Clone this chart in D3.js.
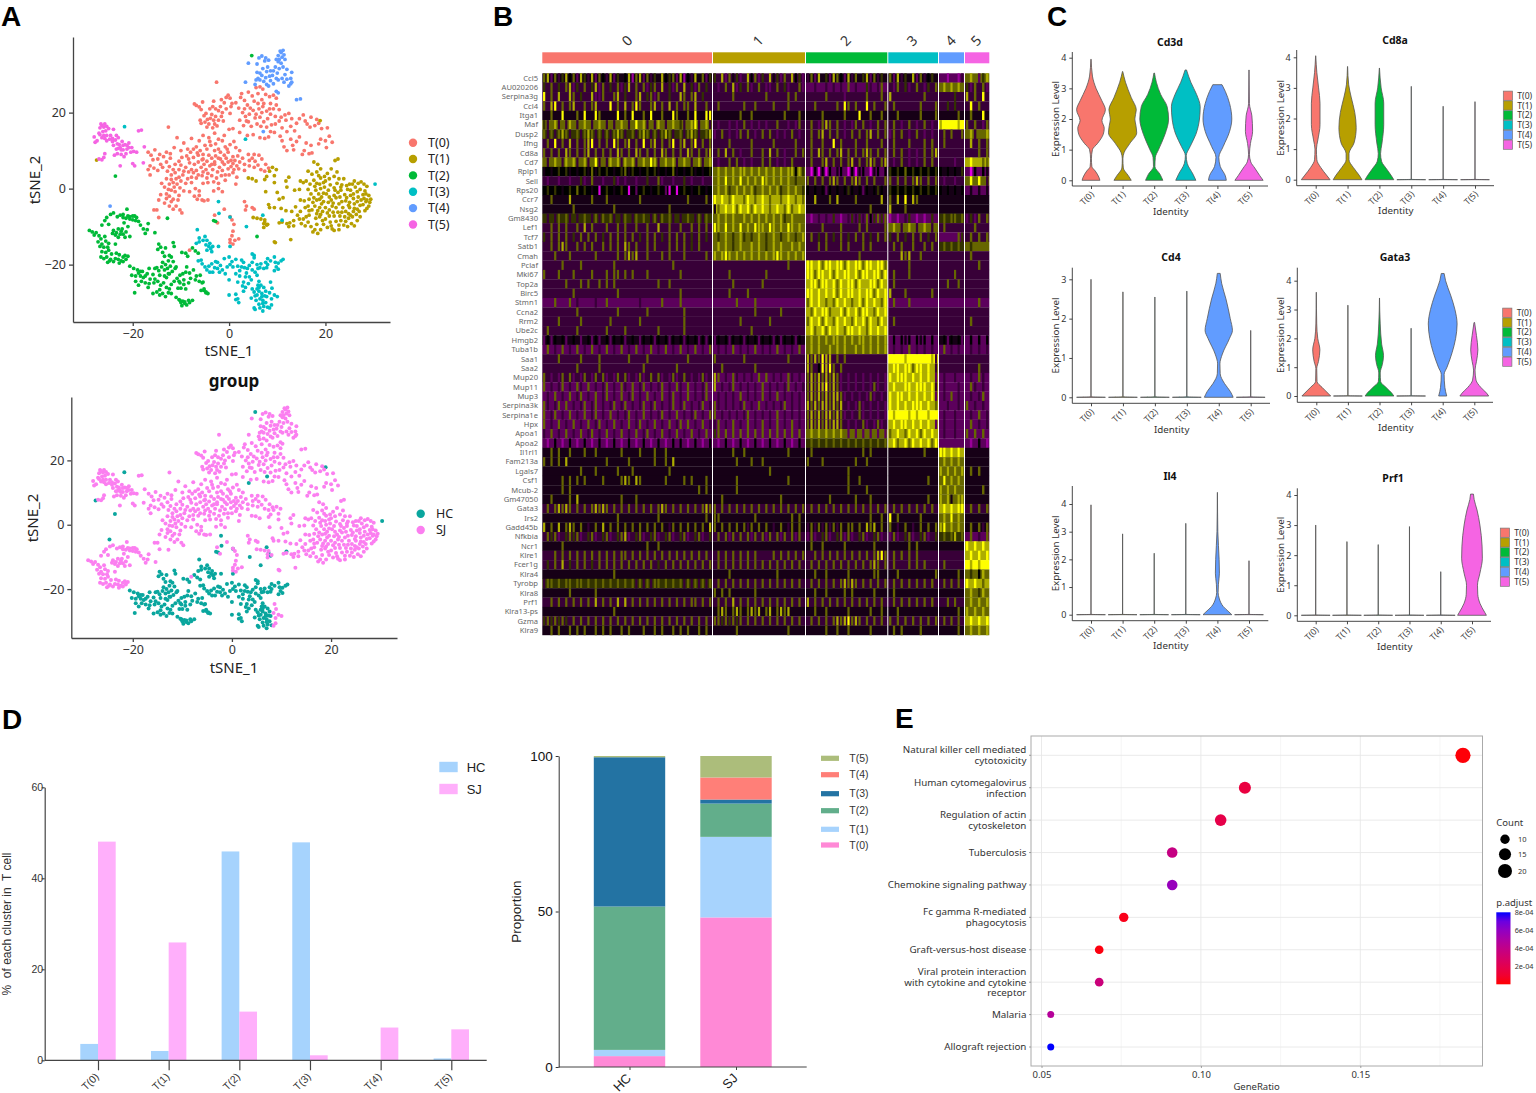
<!DOCTYPE html>
<html>
<head>
<meta charset="utf-8">
<script src="https://cdn.jsdelivr.net/npm/d3@7"></script>
<style>
body { margin: 0; background: #fff; }
svg { display: block; }
svg text { font-family: "Noto Sans", sans-serif; }
svg .arial text, svg text.arial { font-family: "Liberation Sans", sans-serif; white-space: pre; }
</style>
</head>
<body>
<svg id="chart" width="1536" height="1093"></svg>
<script>
const clusterNames = ["T(0)", "T(1)", "T(2)", "T(3)", "T(4)", "T(5)"];
const clusterColors = ["#F8766D", "#B79F00", "#00BA38", "#00BFC4", "#619CFF", "#F564E3"];

// tSNE points, x y pairs
const tsneT0 = [-7.2,22.3,-6.8,21.9,-6.2,21.5,-5.8,20.8,-5.5,22.8,-5.2,19.2,-6,18,-5.8,17.2,-5,17.5,-4.5,18.2,-4.2,17,-3.9,18.5,-3.6,19.5,-3.2,18,-3,17,-2.8,19,-2.5,16.5,-4,21,-3.4,21.6,-2.8,21,-2.2,20.5,-1.8,21.6,-1.4,20,-1,22.6,-0.6,24,-0.2,24.6,0.2,23.8,0.6,22.4,-2.6,28,-1.2,17.8,0.2,19.8,
2.4,24,2.6,25,5.6,26.6,6.4,26.8,7,26.2,4.8,24.4,5.2,23,6,22.4,6.8,23.4,7.6,24.8,8.4,24.2,9.2,24.6,9.8,23.8,3.8,22,4.4,21.2,5,20.6,6.2,21,7,21.6,7.8,20.4,8.6,19.6,9.2,21,9.6,19,10.4,20.8,2,21.2,2.8,20,3.4,19,2.2,18,3,16.6,4,17.6,4.6,16.4,5.4,18.6,6.4,18.8,7.2,17.6,8,18.4,8.8,16.8,9.6,17,10.4,17.8,11,16,11.8,18,12.4,19.8,12,15,12.8,16.4,13.6,15.2,14,17.2,14.6,18.4,15.4,19.4,16.2,17,17,18.8,17.8,16.6,18.6,17.2,19.2,15.8,20.4,16,20.8,13.8,21.4,12.2,20,12.6,19,13,16,12,17,11.4,15.6,10,15.2,9,17.2,9.4,
10.6,13.8,11,12.6,11.4,11,12,10,12.8,13,13.2,11.4,9.4,14.8,8.2,13.6,7.4,13.2,6.4,13.4,5,14.2,3.8,14,2.2,14.8,0.8,15.8,0,15.6,-1,14,-2.2,13,-3,14.6,-4.2,13.4,-5.4,14,-6.2,12.6,-7.8,13.2,-9.4,12,-10.8,13.4,-12.6,16.2,-11.4,10.8,-13,9.6,-14.4,9,-15.4,10.2,-16.2,8.8,-16.8,9.6,-15.8,7.6,-14.8,7.8,-13.6,8.4,-12.2,8,-14.2,6.4,-16.4,6,-16.8,5,-15.6,5.4,-14.8,4.8,-16.4,3.6,-12.4,5.8,-11.2,6.4,-10.4,7.2,-9.8,8.2,-8.8,8.6,-8,9.6,-7.4,10.4,-6.8,11,-6,10,-5.4,9,-4.6,10.4,-3.8,11.4,-2.8,11.8,-2.2,10.4,-1.4,12.6,-0.8,11,0.2,11.6,1,12.4,1.4,10.8,2.2,10,1.8,8.6,0.8,8.4,-0.2,9.6,-1,8.8,-1.8,7.8,-2.8,8.6,-3.6,8,-4.6,7.2,-5.4,7.8,-6.4,7,-7.2,6.4,-8.2,6.8,-9,5.6,-7.8,5,-6.8,4.8,-5.8,5.6,-4.8,5,-4,6,-3,6.4,-2,5.6,-1,6.4,-0.2,7,0.8,6.6,1.6,6,2.2,7,2.8,8,4,9,4.8,8,5.4,7.2,6,6.2,6.8,7.8,7.6,6.4,8.2,5.4,5.2,5.6,4.2,6,3.2,4.8,
-13,2.6,-12,3.6,-11.2,4.2,-10.4,3,-9.6,3.6,-8.6,2.6,-7.8,3,-6.8,2.8,-5.6,3.4,-4.6,2.8,-3.6,3.4,-2.6,2.8,-1.6,3.4,-0.8,2.2,0,3.6,0.8,4.2,1.6,3,-14,1.4,-13.4,0.4,-12.4,1.2,-11.6,1.6,-10.8,1.2,-12,-0.4,-13,-1.4,-14.2,-1.6,-11.2,-0.8,-10.4,-1.8,-9.4,-0.6,-8.2,-0.8,-7,0,-6.2,-0.6,-6.2,-1.8,-5.6,-3,-5.2,-3.2,-4.4,-3,-3.2,-0.6,-2.2,0,-1.4,-0.8,1.4,1.2,-14.6,-3,-13.4,-3.8,-12,-3.4,-11,-4.6,-10.2,-5.6,-9.8,-6.4,-11.6,-5.4,-15,-5.6,-15.6,-5.6,-14.6,-7.6,
-2.4,-9,-3,-7,-1,-5.4,0.2,-7.4,0.6,-8.2,1,-9.4,0.8,-11.2,0.6,-12.4,0.2,-13.4,0.2,-14.2,0.8,-14.6,1.2,-13.6,2,-13.2,-8.2,-16.2,-6.6,-2.8,3.2,-3.4,3.6,-4.6,3.4,-5.6,4.8,-5,5.2,-5.4,
-4.6,16.2,-3.4,16,-2.2,18,-1.6,19,-4.8,19.8,-3.2,23,-1.6,23.4,-0.6,21,0.4,21.6,1.4,22.6,3.2,23.2,4,25.4,6,25,7.2,22.4,8.6,22.4,9.8,22,3.2,21,4.2,19.6,5.6,19.6,6.8,20,8.4,21,3.6,17.8,5.8,17,6.6,16.4,7.8,16.2,8.6,15,10.8,18.8,11.6,19.4,13,18.4,15.8,17.8,18.2,18.2,16.8,16.2,14.6,13.6,14,12.4,13.4,10.2,18.6,11.8,20.2,10.8,16.6,9.2,
-5.6,7.6,-4.2,8.8,-3,7,-2.2,8,-1.4,7,-0.6,8,0.4,7.4,1.2,7.4,2,5.2,-0.2,5.2,-1.4,4.8,-3.4,5,-4.4,4,-5.4,4.4,-6.4,3.6,-7.4,4.2,-8.4,4.4,-9.4,4.6,-10.4,5,-11.6,5,-10,6.2,-8.4,7.8,-7.4,8.2,-6.4,8.8,-5,11.4,-4,12.4,-3,10,-1.8,9.6,-0.4,10.4,-6.6,9.4,-8.6,10.4,-10,10,-12.2,9.2,-13,7,-13.8,5.6,-12.8,4.6,-12,2.4,-11,2.6,-10,2,-9,1.4,-7.8,1.6,-12.6,-0.2,-11.4,0.4,-10.2,0.2,-13,-2.6,-12.4,-2,-11.6,-2.8,-10.6,-3,-12.4,-4.6,-7.2,-2,-5.4,1.4,-4.4,1.6,-3.2,1.8,-2.2,1.4,-0.8,3.6,-5.2,6.4,-3.6,6.4,-2.4,4.4,0.4,5.8,1,5,3.2,6.4,4.2,7.4,5.2,9,6.2,8.8,6.6,5,7.4,4.6];
const tsneT1 = [4,2.8,4.8,2.6,5.6,2,7.4,2.4,7.8,3.2,8.4,4.6,9,5.6,9.4,1.6,9.4,3.4,9.8,5,11.8,2,12.4,3,12,0.4,13.6,-0.4,14.6,-0.2,7.6,-0.8,10,-1,10.4,-2.8,11.2,-2.4,8.2,-4.2,8.4,-5,9.4,-5,10.8,-5.2,11.8,-5.8,13,-6,13.8,-4.8,5,-7.6,5.8,-7.8,6.6,-8,7.4,-8.2,7.2,-9.2,8,-9.4,7.2,-10.2,10.4,-9,11,-8.8,12,-9.2,12.6,-9,13.4,-8.4,14.6,-8,15,-9.2,15.8,-9.8,16.4,-8.8,17,-10,17.8,-10.8,17.4,-11.4,18.2,-9.4,18,-7.8,14.8,-6,15.8,-5,16.4,-4.6,17.2,-5.6,17.8,-4.6,18.4,-5.8,18.8,-5,19.2,-4,18.2,-3,17.6,-2.4,18.6,-1.4,18,-0.4,19,0,19.2,-2.2,19.6,-3.4,20,-5,20.4,-6.4,20,-8,19.6,-9.4,20.4,-10.2,21.2,-9.8,21.8,-11,22.2,-8.6,21.8,-7.2,22.6,-6.2,21.4,-4.6,21.2,-3,21.8,-1.8,20.6,-0.4,21,1,20,2,19,2.8,18.2,1.4,17.6,2.2,16.8,1.2,16,2,15.4,1.6,14.8,2,17.2,3.8,18.2,4.4,17.6,7,18.4,6.4,19,5.2,20.4,4,21.2,5.2,21.8,3.2,22.4,4.4,22.8,2.6,23.4,1,23.8,2.6,22,7.4,22.6,7.8,23.2,-0.4,24,-1.6,24.6,-0.2,25,1.2,25.6,1.2,26,2,26.8,1.4,27.4,1.8,28,1.2,28.6,0.6,25.2,-1.8,25.8,-2.6,26.6,-0.8,27.2,-0.2,27.8,-1.6,28.4,-1.4,29,-1.8,29.4,-2.8,29.2,-3.6,29,-4.6,28.6,-5.2,28.2,-5.8,27.2,-4.4,26.6,-3.4,26,-4,25,-3.6,24.2,-3.2,23.4,-3.4,23.6,-5,24.2,-6,25,-5,25.8,-6,26.4,-6.8,25.6,-7.4,24.8,-7.8,24,-7.4,23.2,-8.4,22.8,-9.6,23.8,-9.6,24.6,-10,25.4,-9.2,26,-9.8,26.6,-8.4,27.2,-7.4,22.2,-2.4,22.8,-4,20.8,-7.2,19,-6.8,16.6,-7,16.6,-2.8,15.6,-3.2,14.8,-3,16.4,-0.2,12.8,-13.4,9.4,-14,9.6,-14.2,
17,-1.4,17.8,0.6,18.8,1.2,19.8,0.4,20.2,-1.4,20.8,-2.2,19.4,-6,18.8,-7.4,19.4,-8.4,21,-8.8,21.6,-6.2,22.2,-5,21.6,-3.8,22.6,-1,23.2,0.4,24.4,0.8,25.2,-0.4,26.2,0.4,26.8,-2.2,27.4,-3,28,-2.6,28.4,-3.4,25.8,-1.4,24.4,-2.4,24.8,-4.4,23.4,-6.2,23,-7.2,24.8,-6.6,26,-5.2,27,-6,27.8,-4.2,28.6,-3,28.2,-0.6,22.8,-10.8,21.4,-10.6,19,-10.8,18.4,-11.8,16,-7.4,15.4,-8,14.2,-7,13.4,-9.8,12.4,-10,16.4,4.6,18.6,3.4,19.8,3.2,20.8,2.6,22.4,1.4,21.8,0.2,19.6,1.6,17.4,-3.6,16.6,-5.8,20.6,-3.6,23,-2.2,22,-0.4,25.2,-7,26.6,-5.4,24.2,-8.6,18.8,-2.8,19.6,-1.2,18.2,-6.6,20.8,-5.6];
const tsneT2a = [-29,-11,-28.4,-11.4,-28,-12.2,-27.6,-11.6,-27,-12.4,-26.6,-13.2,-27.2,-14,-26.4,-14.6,-26,-15.4,-25.6,-13.8,-25,-14.4,-26.4,-16.6,-25.6,-16.8,-25,-16.2,-26.6,-18,-26,-18.4,-25.4,-18,-24.6,-18.6,-24,-19.2,-23.6,-18.4,-23,-18.6,-22.4,-19,-22,-18,-21.6,-17.6,-21,-17.8,-23.4,-17,-22.8,-17.4,-26.4,-9.6,-25.4,-7.6,-25,-9.4,-24.6,-6.8,-24,-6.4,-23.2,-7.4,-22.6,-7,-22,-6.8,-21.4,-7.8,-21,-7.2,-20.6,-8,-20,-8.2,-19.4,-8.4,-18.8,-8.6,-18.4,-9.6,-17.8,-10.6,-17,-10.8,-17.4,-11.8,-21.2,-5.4,-19.6,-7.2,-24,-11,-23.4,-11.6,-23,-10.6,-22.4,-11.2,-22,-12,-23,-12.8,-23.6,-12.2,-21,-10,-21.4,-11.4,-20.6,-12.6,-15.4,-11.6,-12.8,-7.8,-16.8,-9.2,
-25.8,-12.6,-26.8,-15.2,-25.2,-15.4,-24.4,-17.2,-24.8,-19,-25.2,-19.4,-22.8,-19.6,-22,-19.2,-21.4,-18.6,-24.2,-11.8,-22.6,-12,-22.2,-10.6,-21.8,-9,-20.6,-7.4,-20,-7.2,-19.2,-7.6,-22,-7.6,-23.6,-14.6,-25.8,-8.4,-21.6,-12.8];
const tsneT2b = [-20.6,-20.4,-19.8,-21,-19,-21.4,-18.4,-21.8,-20.2,-22.8,-19.4,-23,-18.4,-23,-17.8,-23.4,-17,-22.4,-16.6,-21,-18.2,-24.4,-17.4,-24.8,-16.6,-25,-19.6,-27.4,-15.8,-22.6,-15.4,-21,-15,-20.8,-14.6,-21.6,-14,-20.6,-13.8,-19.4,-13.2,-20,-12.6,-19,-12.8,-21,-12.2,-20.4,-14.6,-14.6,-14.8,-16,-13.8,-16.8,-13.2,-15.6,-12.4,-17.6,-11.6,-14.2,-11.4,-15.2,-15.4,-23.8,-14.8,-24.4,-14.2,-25.4,-13.6,-24.8,-13,-26,-12.4,-26.4,-12,-25.2,-11.4,-24.4,-10.8,-23.6,-10.2,-22.8,-9.6,-22.4,-9,-22,-8.2,-22.2,-8,-23.6,-15.8,-27.6,-15,-27.2,-14.4,-28,-13.8,-27.6,-13.2,-28.4,-12.6,-27.4,-12,-27.6,-10.6,-26.2,-10,-26.2,-9,-26.4,-7,-24,-6.2,-24.4,-5.4,-24.6,-6,-22.8,-9.8,-16.8,-9,-17,-8.6,-17.8,-7.6,-15.6,-7,-16.4,-6.4,-17,-5.2,-26.4,-5.8,-26.8,-4.8,-27.4,-10.2,-29.4,-9.6,-29.6,-9.2,-30.2,-8.8,-30.6,-8.2,-30,-7.6,-29.4,-9.8,-30.8,-10.4,-24.4,-11.2,-21,-12.4,-22.4,-13,-23.4,-11,-28.6,-9.4,-25.2,
-18.8,-22.2,-18,-21.8,-17.4,-23,-16.4,-23.8,-15.6,-24.8,-14.4,-26.6,-13.4,-23,-12.6,-22.4,-13.4,-21.4,-14.4,-22.8,-11.8,-21.8,-11,-20.6,-11.6,-19.2,-12,-18,-13.4,-17.8,-14.2,-15.4,-10.2,-24.8,-9.4,-24,-8.4,-24.8,-8.8,-20.6,-7.4,-21.4,-6.8,-23,-5.6,-24.8,-4.8,-27.2,-4.4,-27.6,-5.2,-26.8,-9.2,-29.8,-8.4,-29.4,-10,-30,-10.4,-29.2,-16.8,-26,-19.4,-24.4,-18.8,-25.4];
const tsneT3 = [-6.8,-14.4,-6.2,-14,-5.4,-13.6,-5,-12.6,-4.6,-13.6,-4,-14.4,-4.2,-15.2,-3.8,-15.8,-3.6,-16.6,-4.6,-16.2,-6.6,-10.8,-6.4,-19,-5.8,-18.8,-5.6,-19.8,-5,-20.6,-4.2,-20.4,-3.6,-19.8,-3,-20.8,-2.8,-19.2,-2.4,-21,-1.8,-20.2,-1.4,-21.4,-0.8,-22.4,-4,-22,-1,-18.4,0,-18,0.2,-20,0.8,-20.6,1.4,-18.6,1.8,-20.4,2.6,-20.6,3,-19.4,3.2,-20.8,3.8,-21,4.2,-20.2,4.8,-19.4,5.8,-20,6,-21,6.6,-19.8,7.2,-21,7.6,-19.4,8,-18.4,8,-20,9.4,-18,9.8,-20.6,10.2,-19.6,10.8,-19,11.2,-18.6,4.8,-17.2,5.2,-17.6,5.4,-22,5.8,-22.8,0,-24,1.4,-22.4,2.2,-23,3,-24.6,3.4,-23.2,4,-25,4.6,-24,3.4,-26,3,-27,0,-28,1.4,-27.8,1.8,-29,1.4,-29.2,2,-30,4.8,-26.4,5.2,-27.2,5.8,-26.4,5.8,-28,6.2,-27,6.8,-27.6,6.6,-25.4,6.2,-24.4,7.2,-26,7.6,-27,7.8,-28.4,6.4,-29,5.6,-29.4,7,-29.4,7.6,-30,6.2,-30.4,7.2,-31,8,-31.2,5.2,-31.4,5.4,-31.8,7,-32.2,-2.2,-15.2,0.2,-15.2,
-4.6,-21.4,-3.4,-22,-2.4,-19.4,-2,-22,-0.4,-20.6,0.6,-19.2,2.2,-21.6,3.6,-22.2,4.8,-21.4,6.4,-20.8,7.8,-20.8,8.6,-19,9.6,-19.4,10.2,-21.2,9.4,-21.6,2.6,-18.8,5.2,-18.2,6.2,-26,6.8,-28.4,5.4,-28.2,4.6,-28.8,7.4,-28.2,6,-25.4,7,-30.2,6.4,-31.4,1.8,-24.6,2.8,-25.6,4.2,-23.2,-6.2,-13,-4.8,-14.8,-3.4,-15.2];
const tsneT3c = [8.6,-24.6,8.9,-26.2,8.4,-27.4,9.4,-28,10,-28.4,8.8,-29,8.8,-30.6,8.4,-31.4];
const tsneT4 = [4,33,5.8,30.6,5.4,27.4,6.4,28.6,6.8,29.8,7,31.6,7.4,33.6,7.6,34.4,8.2,33.8,8.6,31,8.6,28.4,9,29.8,9.2,27.6,9.6,32,10,30.4,10.2,28.6,10.4,34,10.8,35.8,11,34.6,10.8,33,11.2,32,11.2,36.4,11.6,34,11.6,30,12,28.8,12.4,27,12.8,29,13,28,9.8,25.6,10.2,25.2,3.4,28,6.2,34.4,6.8,34.9,13,30.6,14,23.4,14.8,23.6,5.8,32.8,
6,29,5.6,28.6,6.4,30.4,7.6,29.2,7.8,30.8,7.2,28.2,8,32,8.4,29.6,9.2,31,9.8,29,10.4,31.6,10.2,33.4,9.8,34,10.2,35,10.6,36.2,11.4,35.2,12,31.4,11,29,11.4,28,12.8,27.6,7.8,27.4,8.2,27];
const tsneT5 = [-28,13.6,-27.8,12.2,-27.4,12.6,-27,14.6,-26.8,16,-26.6,17,-26.2,15,-26,16.2,-25.8,17,-25.4,14,-25,15.8,-25.4,12.6,-24.8,13,-24.2,12.4,-24,15.6,-23.4,14,-23,13.4,-22.8,11.6,-22.6,10.8,-22.2,12.4,-22,10.2,-21.6,11.6,-21.2,10.4,-20.8,12,-20.2,10.8,-19.8,9.8,-19.2,9.6,-23.2,9.2,-23.8,8.8,-21.8,8.4,-26.4,7.6,-26,8.2,-25.8,9.2,-27,7.8,-18.8,15.2,-18.2,15.4,-20,6.6,-19.6,6,-17.8,6.8,-17.6,11,-22.6,6,
-26.8,14.2,-26.4,13.4,-26,14,-25.6,15.2,-26.4,16.6,-25.4,16.4,-25.8,13.2,-24.6,14,-24.2,13.2,-23.6,12.8,-23.2,11.8,-23,10.6,-22.4,10.2,-22,11.4,-21.2,11.4,-20.8,10.8,-21.4,9.2,-22.4,9,-23.4,10.4,-24,11.4,-20.4,9.6];
const tsneExtra = [[3,-2.2,-3.4],[3,-2.1,-6.5],[2,-3.2,-8.4],[2,-2.8,-8.6],[4,-24.7,-4.6],[3,-21.7,16.3],[2,-23.6,3.3],[2,4.7,35],[1,-27.5,7.5],[3,30.3,1.2],[4,7.1,15],[1,18.9,17.9],[2,5.8,-12.6],[3,0.2,-7.5],[3,3.4,13],[1,7.4,-8.8],[1,7.8,-9.6],[3,7,-7],[3,11,-8.3],[3,3.6,-10]];

// Expression of each gene along the cells of each cluster, one digit per column, hand
const genes = ["Ccl5","AU020206","Serpina3g","Ccl4","Itga1","Maf","Dusp2","Ifng","Cd8a","Cd7","Rplp1","Sell","Rps20","Ccr7","Nsg2","Gm8430","Lef1","Tcf7","Satb1","Cmah","Pclaf","Mki67","Top2a","Birc5","Stmn1","Ccna2","Rrm2","Ube2c","Hmgb2","Tuba1b","Saa1","Saa2","Mup20","Mup11","Mup3","Serpina3k","Serpina1e","Hpx","Apoa1","Apoa2","Il1rl1","Fam213a","Lgals7","Csf1","Mcub-2","Gm47050","Gata3","Irs2","Gadd45b","Nfkbia","Ncr1","Klre1","Fcer1g","Klra4","Tyrobp","Klra8","Prf1","Klra13-ps","Gzma","Klra9"];
const heatValues = [
"7827368572863827538264581782736485672815384726 6382746238572638462738562 3728462875283746827364 7283648273564 2212213 787268",
"6373637826373682736372683737267383627383627363 3237382637237322373623372 2232232323272322632372 3273623732637 7878787 627372",
"9373833873633822733783633783672733633873783633 3333373333333373333373733 3333373333233333733373 8333333337333 3333633 837393",
"7389373783373783339373837973378373837377383373 3733333373373333733373333 3373333373973733937337 3733333373337 3363633 393733",
"4474494447494497444494749447494474497447494499 4444444744744444444744474 4444744444744494474474 4474444474447 4444474 474494",
"6378373873787378737378737978373873787637893783 3233232373232323373323273 3732787373232737323737 3732373237323 8999989 737327",
"7373787367378737373787367378737378736737873678 2373232737323737323237323 3737837373237373783737 2737323732323 3737337 783778",
"3739373837378937373973783739378373793783793737 3333733333733333733333733 3733733937333733733373 3733373337373 3733333 383737",
"7373738737378373737387373873737387373738737378 3738373233733738373233737 3738737378373737873737 3737323237378 3333333 333737",
"7378738783783793738783878378798378783787378378 3233737323233737323237333 3733783737378373787378 3237323237373 3333233 898877",
"4545656454564746565456746545656454574545645456 7878787887878787878788586 2050505245205045204525 6565756565656 5454546 205254",
"3233233233623733233623233233633723323363233233 7879787978787987878787677 7373737873737873737337 7373737873737 3233233 797973",
"5656545657565450565456505256545652050565456545 7878678787867878786787876 5454525454565452545654 6565656565656 5454545 242424",
"4474444844444744474444444474444444444447444474 9898798879878987887898787 4484447484444744444484 7484948744444 4444444 444444",
"4444444474444444444744444444444444744444444444 4789897989798987898797898 4444444444444444474444 8444744444444 4444444 444444",
"6363767363676373767363763767637376736367637376 7878787787878787878678777 2123232621236363756767 1212362121262 6767767 262737",
"3373737337383733373373733733733833733733737373 9879787978798879878798787 3333733337333373733337 7873787378737 3733333 337333",
"6373737363737373637373737363737363737373637363 7678767867678767876787678 3736373637363737363737 6373637373637 2222276 373737",
"3373787337373733737373873733737333737373637333 7878767877878767878778787 3337373337373337373333 3737337337373 6767676 767777",
"3337333733333373333373787833733373733373333373 8789878787878787898787878 3333333333333373333333 3338783373333 3333333 373333",
"3333373333733333333733333333333333373333333333 3333333333333333333373333 9989799899798997998997 3333373333333 3333333 333733",
"7333733373333733373773737333733333333733333333 3333733333333373333333333 9979989798998979989979 3733373333333 3333733 333333",
"3333337333737337373733333333333733733333333333 3333373333333733333333333 8997998979899798899798 3733333333333 3373373 333333",
"3333333373333333333373333333333333333733333333 3333733337333333333333333 9989898979899898997989 8333733333373 3333333 333333",
"2227222723222232272222222232222272222722222222 2222227222272222222222222 7989878798987897989879 2722272222222 2222222 222722",
"3333333337333333333373333333733333333373333333 3333333333373333337333333 8798997889798979987989 3333333333333 3333333 333333",
"3333733333733333337333333373333333333373333333 3333333733333337333333333 7989798798987989798798 3733333333333 3333333 373333",
"3733333337333333373333733333333733333373333333 3333333333733333333333333 8978979898799898798989 3333333333333 3333333 333333",
"2525452454245252452545245425452545254525452525 2545254525452545252545254 7878787887878788787878 2525452545252 4525452 252525",
"2723272327232723272327232723272327232723272327 2323272323272323272323272 7878778787877878787878 2323272323232 2723232 232323",
"3333733333733337333333373333733333333337333333 7333333373333333333373333 8787988373733333333333 9999899999983 3333333 333333",
"3333333337333337333333333337333333337333333333 3373333333373333333333333 8735989737333333333333 8998997998983 3333333 333733",
"7323273723273273723273723272373723272373232723 8723273232327272323273232 7878787872323232323232 9899989898982 2322322 232732",
"7232372327327232372327327237232372327327232372 8232372323232723232372323 7878897872323232327232 8988998999893 2322232 273232",
"2327232723723272372327237232723272372327232372 2323232723232723272323232 7878787887232323272323 9899898989892 2327232 232372",
"7323727232372372323723723237237232372372323723 7323232372327232323723232 8787887878323272323232 9898989998987 2232232 723232",
"7237232723272372327232372327232372327232372327 7232323237232323272323232 7878788787232372323232 9899989899899 2322322 232723",
"7232723272327237232723272372327232723727232723 3723272327232723272327232 7878787887323237232723 8989989898982 2322322 272323",
"3272327232723723272327232723723272327232723272 6727272727272727272727272 7878787878727272727272 7898798979898 2322322 727272",
"2125212521252125212521252125212521252521252125 2125212521252125212521252 6767676767676767676767 8978979898979 2222222 212521",
"4474744744474474444447444474447447444444444444 4444474474444444444474444 4744444444444447474444 4444444447444 9989898 444444",
"7474748444444444474444474444447447484444444444 4444447444744744444444444 7444744444444744744444 4444444444444 7878787 444444",
"4444444444744474444474447444444444744444444444 4444444444444447444444444 4444444444474444444444 4444444444444 8787878 474744",
"4444474747474444744447874874444447444474744474 4444447444444444444474444 4444444444474474444444 4444444444744 7978787 444444",
"4444474744444444444444444444444444444444447474 4444447444444444444444444 4444444444474444744444 4444444444444 8787877 444474",
"4474444748444444444447444744444444444444444444 4474444444444444447444444 4444447444444744474444 4444444444744 8784788 444444",
"3737878737373787873737373737373787373737373787 7373737373737373737373737 3737373737373737373737 3737373737373 8989899 373737",
"4444444444444444444474444444444744444444444474 7744444444474444444447474 4444444444444444474474 9474444474444 7879787 444444",
"8474847874743474847474747474747474374747474748 7474747473747474347437474 3737373737477474878474 7434743474747 8978787 474737",
"3767236767236723672367823672367236723672367236 3737273737273727372737273 2723672367272367236723 2723672367236 6767867 272327",
"4444474444444444444444444444744744444444444444 4444444444444444444444444 4744744444744444447444 4444474744444 4444444 989898",
"3337373737373737373737737373737373737373737373 3737373737373333737373737 3373737373737373737897 3737373733333 3333333 898989",
"3637383637373637373737373737373637373737373737 3737373737373737373737373 3737373737373737378737 3733373737333 3733333 989899",
"4444444444444444444744444444444444444444444444 4444744444444444474444444 4474474444474444447744 4474444444447 4444474 767587",
"3776767767767676767676767373737767676737373737 3737373737373737373737373 3737373737878737373737 3737373737373 3737373 989878",
"4444444744444474444444444444444444444444444444 7474744444474444444444444 4474474444747444447444 4744444444444 4444444 787687",
"3373737373737383737383837373737373737373773737 3737383737373737373737373 8373737373737373737373 3737373737373 3373733 787878",
"4444444444444444444744444444444444444444444444 4787478747878478478784444 4474474444474444474474 4474444444444 4444474 878787",
"6767676373737373737373737373737373737373737373 7767676737373737373737373 3737373787897873737373 7373737373737 3737373 898989",
"4474744747474474747447474447447474474747447474 4444447444444444444474444 4444474474474444474444 4747444474444 4444474 787878"
];
const heatLevels = [-2.2, -1.5, -0.9, -0.55, -0.22, 0, 0.5, 1.0, 1.7, 2.5];

// half width of each violin (0 to 1) at expression values
const stem = (top) => [[0, 1], [0.012, 0.004], [top, 0.003]];
const cd3dViolins = [
	[[0,.62],[.1,.55],[.3,.3],[.45,.06],[.7,.03],[1,.1],[1.2,.45],[1.5,.85],[1.7,.92],[1.95,.76],[2.3,1],[2.6,.75],[3,.35],[3.4,.1],[3.95,.01]],
	[[0,.6],[.15,.4],[.4,.05],[.7,.02],[.9,.1],[1.2,.5],[1.55,.98],[1.8,.92],[2,.85],[2.3,.95],[2.7,.6],[3.2,.2],[3.55,.01]],
	[[0,.6],[.2,.4],[.45,.05],[.75,.08],[1,.3],[1.5,.75],[2,1],[2.4,.9],[2.8,.45],[3.2,.15],[3.5,.02]],
	[[0,.7],[.2,.5],[.55,.1],[.8,.03],[1.1,.3],[1.5,.7],[2,.95],[2.4,1],[2.8,.75],[3.2,.35],[3.6,.05]],
	[[0,.62],[.15,.55],[.45,.2],[.75,.1],[1.1,.4],[1.6,.85],[2,1],[2.5,.85],[2.9,.55],[3.12,.32]],
	[[0,.98],[.15,.75],[.4,.4],[.6,.12],[.85,.03],[1.2,.1],[1.6,.25],[2.1,.2],[2.5,.03],[3.6,.005]]
];
const cd8aViolins = [
	[[0,1],[.15,.75],[.4,.35],[.65,.08],[1,.05],[1.3,.15],[1.8,.3],[2.5,.3],[3,.2],[3.5,.08],[4.05,.005]],
	[[0,1],[.15,.8],[.4,.4],[.65,.1],[.85,.1],[1.2,.45],[1.7,.6],[2.2,.5],[2.7,.25],[3.1,.08],[3.7,.005]],
	[[0,1],[.15,.8],[.35,.5],[.6,.15],[.85,.08],[1.2,.18],[1.8,.3],[2.5,.3],[3,.12],[3.65,.005]],
	stem(3.05), stem(2.4), stem(2.55)
];
const cd4Violins = [
	stem(3.0), stem(2.68), stem(2.55), stem(2.7),
	[[0,1],[.15,.8],[.35,.4],[.6,.1],[.85,.08],[1.1,.25],[1.5,.75],[1.7,.95],[2,.8],[2.5,.5],[2.9,.2],[3.15,.1]],
	stem(1.7)
];
const gata3Violins = [
	[[0,1],[.1,.8],[.3,.4],[.5,.05],[.95,.03],[1.2,.15],[1.6,.25],[2,.1],[2.5,.03],[3.6,.003]],
	stem(3.15),
	[[0,1],[.1,.85],[.3,.45],[.5,.08],[.8,.05],[1.1,.2],[1.4,.28],[1.8,.15],[2.5,.05],[3.4,.003]],
	stem(2.35),
	[[0,.28],[.3,.15],[.75,.1],[1,.3],[1.5,.65],[2,.9],[2.5,1],[3,.85],[3.5,.55],[4,.2],[4.25,.1]],
	[[0,1],[.1,.85],[.3,.45],[.55,.12],[.9,.05],[1.2,.15],[1.6,.25],[2.1,.15],[2.55,.02]]
];
const il4Violins = [
	stem(3.97), stem(2.92), stem(2.22), stem(3.3),
	[[0,1],[.1,.8],[.3,.4],[.6,.12],[.8,.05],[1.1,.07],[1.5,.14],[2,.12],[3,.03],[4.42,.003]],
	stem(1.95)
];
const prf1Violins = [
	stem(3.0), stem(2.45), stem(2.35), stem(2.95), stem(1.45),
	[[0,1],[.1,.88],[.4,.55],[.7,.4],[1,.38],[1.4,.55],[1.9,.72],[2.3,.7],[3,.55],[3.5,.35],[3.85,.15],[4.03,.1]]
];

const hcPercent = [3.6, 2.05, 45.9, 47.9, 0, 0.4];
const sjPercent = [48.06, 25.9, 10.7, 1.1, 7.2, 6.8];
const stackHC = [3.5, 2.0, 46.1, 48.0, 0, 0.4];
const stackSJ = [48.1, 25.9, 10.7, 1.3, 7.1, 6.9];
const stackColors = ["#ff89d6", "#a7d3fd", "#62ae8b", "#2373a3", "#ff7f78", "#acbd7b"];

const pathways = [["Natural killer cell mediated","cytotoxicity"],["Human cytomegalovirus","infection"],["Regulation of actin","cytoskeleton"],["Tuberculosis"],["Chemokine signaling pathway"],["Fc gamma R-mediated","phagocytosis"],["Graft-versus-host disease"],["Viral protein interaction","with cytokine and cytokine","receptor"],["Malaria"],["Allograft rejection"]];
const geneRatio = [0.1822, 0.1138, 0.1062, 0.0910, 0.0910, 0.0758, 0.0681, 0.0681, 0.0529, 0.0529];
const geneCount = [24, 15, 14, 12, 12, 10, 9, 9, 7, 7];
const pAdjust = [1e-5, 1.5e-4, 1.8e-4, 3.8e-4, 5.8e-4, 4e-5, 2e-5, 3.5e-4, 4.6e-4, 8e-4];

const svg = d3.select("#chart");

function pairs(flat) {
	let out = [];
	for (let i = 0; i < flat.length; i += 2) out.push([flat[i], flat[i + 1]]);
	return out;
}

function styleAxis(g, fontSize, color, lineColor, lineWidth) {
	g.selectAll("text").attr("font-size", fontSize).attr("fill", color);
	g.selectAll("line").attr("stroke", lineColor).attr("stroke-width", lineWidth);
	g.selectAll("path").attr("stroke", lineColor).attr("stroke-width", lineWidth).attr("fill", "none");
}

function panelLetter(label, x, y) {
	svg.append("text").attr("class", "arial").attr("x", x).attr("y", y).attr("font-size", 28).attr("font-weight", 700).attr("fill", "#000").text(label);
}

function label(text, x, y, size, opts) {
	opts = opts || {};
	let t = svg.append("text").attr("font-size", size).attr("fill", opts.fill || "#222")
		.attr("text-anchor", opts.anchor || "middle").attr("font-weight", opts.weight || 400)
		.attr("transform", `translate(${x},${y})` + (opts.rotate ? ` rotate(${opts.rotate})` : ""))
		.attr("dy", opts.dy === undefined ? "0.35em" : opts.dy)
		.text(text);
	if (opts.arial) t.attr("class", "arial");
	return t;
}

/* ---------- panel A ---------- */
const tsneByCluster = [pairs(tsneT0), pairs(tsneT1), pairs(tsneT2a).concat(pairs(tsneT2b)), pairs(tsneT3).concat(pairs(tsneT3c)), pairs(tsneT4), pairs(tsneT5)];
tsneExtra.forEach(d => tsneByCluster[d[0]].push([d[1], d[2]]));

function tsneAxes(box) {
	let x = d3.scaleLinear().domain(box.xDomain).range([box.left, box.right]);
	let y = d3.scaleLinear().domain(box.yDomain).range([box.bottom, box.top]);
	svg.append("g").attr("transform", `translate(0,${box.bottom})`)
		.call(d3.axisBottom(x).tickValues([-20, 0, 20]).tickSize(4).tickSizeOuter(0))
		.call(g => styleAxis(g, 12.5, "#333", "#444", 1.3));
	svg.append("g").attr("transform", `translate(${box.left},0)`)
		.call(d3.axisLeft(y).tickValues([-20, 0, 20]).tickSize(4).tickSizeOuter(0))
		.call(g => styleAxis(g, 12.5, "#333", "#444", 1.3));
	return {x, y};
}

const tsneTop = tsneAxes({left: 73, right: 390, top: 37, bottom: 322, xDomain: [-32.4, 33.4], yDomain: [-35.1, 39.9]});
tsneByCluster.forEach((points, i) => {
	svg.append("g").selectAll("circle").data(points).join("circle")
		.attr("cx", d => tsneTop.x(d[0])).attr("cy", d => tsneTop.y(d[1])).attr("r", 1.9)
		.attr("fill", clusterColors[i]);
});
label("tSNE_1", 229, 351, 15);
label("tSNE_2", 35, 180, 15, {rotate: -90});
clusterNames.forEach((n, i) => {
	let cy = 142.7 + i * 16.35;
	svg.append("circle").attr("cx", 413).attr("cy", cy).attr("r", 4.2).attr("fill", clusterColors[i]);
	label(n, 428, cy, 12.5, {anchor: "start"});
});

const tsneBottom = tsneAxes({left: 71.3, right: 397, top: 397, bottom: 638, xDomain: [-32.4, 33.3], yDomain: [-35.2, 39.7]});
const hcPoints = pairs(tsneT2b).concat(pairs(tsneT3), tsneExtra.map(d => [d[1], d[2]]));
const sjPoints = pairs(tsneT0).concat(pairs(tsneT1), pairs(tsneT2a), pairs(tsneT4), pairs(tsneT5), pairs(tsneT3c));
[[hcPoints, "#0aa69e"], [sjPoints, "#fb7ff0"]].forEach(group => {
	svg.append("g").selectAll("circle").data(group[0]).join("circle")
		.attr("cx", d => tsneBottom.x(d[0])).attr("cy", d => tsneBottom.y(d[1])).attr("r", 2)
		.attr("fill", group[1]);
});
label("group", 234, 381, 17, {weight: 700, fill: "#111"});
label("tSNE_1", 234, 668, 15);
label("tSNE_2", 33, 518, 15, {rotate: -90});
[["HC", "#0aa69e", 513.7], ["SJ", "#fb7ff0", 530]].forEach(d => {
	svg.append("circle").attr("cx", 420.7).attr("cy", d[2]).attr("r", 4.2).attr("fill", d[1]);
	label(d[0], 436, d[2], 12.5, {anchor: "start"});
});

/* ---------- panel B ---------- */
const heatColumns = [[542.3, 712], [713, 805], [806, 887.3], [888.3, 938], [939, 964], [965, 989.3]];
const heatRow = d3.scaleBand().domain(genes).range([73.3, 635]).paddingInner(0);
const heatColor = d3.scaleLinear().domain([-2.5, 0, 2.5]).range(["#ff00ff", "#000000", "#ffff00"]).clamp(true);

heatColumns.forEach((c, i) => {
	svg.append("rect").attr("x", c[0]).attr("y", 52.3).attr("width", c[1] - c[0]).attr("height", 11).attr("fill", clusterColors[i]);
	label(String(i), (c[0] + c[1]) / 2 - (i == 0 ? 0 : 1), 40.7, 14, {rotate: -45, fill: "#333"});
});
const heatG = svg.append("g");
genes.forEach((gene, r) => {
	let segments = heatValues[r].split(" ");
	segments.forEach((seg, c) => {
		let digits = seg.split("").map(Number);
		let x = d3.scaleBand().domain(d3.range(digits.length)).range(heatColumns[c]);
		// the usual level of the stretch fills it, other cells are thin stripes on top
		let base = digits.slice().sort(d3.ascending)[Math.floor(digits.length * 0.35)];
		heatG.append("rect").attr("x", heatColumns[c][0]).attr("y", heatRow(gene))
			.attr("width", heatColumns[c][1] - heatColumns[c][0]).attr("height", heatRow.bandwidth() + 0.2)
			.attr("fill", heatColor(heatLevels[base]));
		heatG.selectAll(null).data(digits.map((d, i) => [d, i]).filter(d => d[0] != base)).join("rect")
			.attr("x", d => x(d[1]) + x.bandwidth() * 0.2).attr("y", heatRow(gene))
			.attr("width", x.bandwidth() * 0.6).attr("height", heatRow.bandwidth() + 0.2)
			.attr("fill", d => heatColor(heatLevels[d[0]]));
	});
	label(gene, 538, heatRow(gene) + heatRow.bandwidth() / 2, 7.6, {anchor: "end", fill: "#666"});
});

/* ---------- panel C ---------- */
const violinPanels = [
	{gene: "Cd3d", data: cd3dViolins, ticks: [0,1,2,3,4], left: 1072.3, right: 1268, top: 52, bottom: 186, y0: 180.3, yTop: 57.7, first: 1091, last: 1249, tx: 1170, ty: 42, idY: 212},
	{gene: "Cd8a", data: cd8aViolins, ticks: [0,1,2,3,4], left: 1296.7, right: 1494, top: 50, bottom: 185.7, y0: 179.7, yTop: 57.3, first: 1315.7, last: 1475, tx: 1395, ty: 40, idY: 211, legendX: 1503.3, legendY: 95.7},
	{gene: "Cd4", data: cd4Violins, ticks: [0,1,2,3], left: 1072.3, right: 1270, top: 267.7, bottom: 403.3, y0: 397.3, yTop: 279.3, first: 1091, last: 1250.7, tx: 1171, ty: 257.7, idY: 429.3},
	{gene: "Gata3", data: gata3Violins, ticks: [0,1,2,3,4], left: 1297.3, right: 1493, top: 267.7, bottom: 402.3, y0: 396, yTop: 280.7, first: 1316.3, last: 1474.3, tx: 1395, ty: 257.3, idY: 427.3, legendX: 1502.7, legendY: 312.7},
	{gene: "Il4", data: il4Violins, ticks: [0,1,2,3,4], left: 1072.3, right: 1268.3, top: 486, bottom: 620.7, y0: 614.7, yTop: 504, first: 1091, last: 1249, tx: 1170, ty: 476, idY: 646},
	{gene: "Prf1", data: prf1Violins, ticks: [0,1,2,3,4], left: 1297.3, right: 1491, top: 488.3, bottom: 621.3, y0: 615.3, yTop: 495, first: 1315.7, last: 1472, tx: 1393, ty: 478.3, idY: 646.7, legendX: 1500.3, legendY: 532.7}
];

violinPanels.forEach(p => {
	let topValue = p.ticks[p.ticks.length - 1];
	let y = d3.scaleLinear().domain([0, topValue]).range([p.y0, p.yTop]);
	let x = d3.scalePoint().domain(clusterNames).range([p.first, p.last]);
	let w = d3.scaleLinear().domain([0, 1]).range([0, 14.4]);

	p.data.forEach((profile, i) => {
		let cx = x(clusterNames[i]);
		let area = d3.area().curve(d3.curveMonotoneY)
			.x0(d => cx - w(d[1])).x1(d => cx + w(d[1])).y(d => y(d[0]));
		svg.append("path").datum(profile).attr("d", area)
			.attr("fill", clusterColors[i]).attr("stroke", "#555").attr("stroke-width", 0.8);
	});

	svg.append("g").attr("transform", `translate(0,${p.bottom})`)
		.call(d3.axisBottom(x).tickSize(3).tickSizeOuter(0))
		.call(g => styleAxis(g, 8.8, "#444", "#333", 0.9))
		.call(g => g.select(".domain").attr("d", `M${p.left},0H${p.right}`))
		.call(g => g.selectAll("text").attr("text-anchor", "end").attr("dy", 0).attr("y", 0)
			.attr("transform", "translate(3,9) rotate(-45)"));
	svg.append("g").attr("transform", `translate(${p.left},0)`)
		.call(d3.axisLeft(y).tickValues(p.ticks).tickSize(3).tickFormat(d3.format("d")).tickSizeOuter(0))
		.call(g => styleAxis(g, 9, "#333", "#333", 0.9))
		.call(g => g.select(".domain").attr("d", `M0,${p.top}V${p.bottom}`));

	label(p.gene, p.tx, p.ty, 10.5, {weight: 700, fill: "#111"});
	label("Identity", (p.left + p.right) / 2 + 0.5, p.idY, 9.8, {fill: "#333"});
	label("Expression Level", p.left - 16.5, (p.top + p.bottom) / 2, 9.8, {rotate: -90, fill: "#333"});

	if (p.legendX) {
		clusterNames.forEach((n, i) => {
			let cy = p.legendY + i * 9.8;
			svg.append("rect").attr("x", p.legendX).attr("y", cy - 4.6).attr("width", 9.2).attr("height", 9.2)
				.attr("fill", clusterColors[i]).attr("stroke", "#777").attr("stroke-width", 0.7);
			label(n, p.legendX + 14, cy, 8.6, {anchor: "start", fill: "#333"});
		});
	}
});

/* ---------- panel D bars ---------- */
const barX = d3.scalePoint().domain(clusterNames).range([98, 451.3]);
const barY = d3.scaleLinear().domain([0, 60]).range([1060.3, 787.3]);
const barWidth = 17.7;
[[hcPercent, "#a6d3fd", -barWidth], [sjPercent, "#ffaffb", 0]].forEach(s => {
	svg.append("g").selectAll("rect").data(s[0]).join("rect")
		.attr("x", (d, i) => barX(clusterNames[i]) + s[2]).attr("y", d => barY(d))
		.attr("width", barWidth).attr("height", d => barY(0) - barY(d)).attr("fill", s[1]);
});
svg.append("g").attr("class", "arial").attr("transform", "translate(0,1060.3)")
	.call(d3.axisBottom(barX).tickSize(10).tickSizeOuter(0))
	.call(g => styleAxis(g, 10.5, "#333", "#444", 1.2))
	.call(g => g.select(".domain").attr("d", "M44.7,0H486.7"))
	.call(g => g.selectAll("text").attr("text-anchor", "end").attr("dy", 0).attr("y", 0)
		.attr("transform", "translate(1,17) rotate(-45)"));
svg.append("g").attr("class", "arial").attr("transform", "translate(44.7,0)")
	.call(d3.axisLeft(barY).tickValues([0, 20, 40, 60]).tickSize(3).tickSizeOuter(0))
	.call(g => styleAxis(g, 10.5, "#333", "#444", 1.2))
	.call(g => g.selectAll("text").attr("x", -1.5));
label("%  of each cluster in  T cell", 6.5, 924, 12, {rotate: -90, arial: true, fill: "#333"});
[["HC", "#a6d3fd", 767], ["SJ", "#ffaffb", 789]].forEach(d => {
	svg.append("rect").attr("x", 439.3).attr("y", d[2] - 5.2).attr("width", 18.4).attr("height", 10.4).attr("fill", d[1]);
	label(d[0], 466.7, d[2], 13, {anchor: "start", arial: true});
});

/* ---------- panel D stacked ---------- */
const stackX = d3.scalePoint().domain(["HC", "SJ"]).range([629.5, 736]);
const stackY = d3.scaleLinear().domain([0, 100]).range([1067, 756]);
const stackRows = clusterNames.map((n, i) => ({HC: stackHC[i], SJ: stackSJ[i]}));
const stacked = d3.stack().keys(d3.range(6))
	.value((d, k) => stackRows[k][d]);
stacked(["HC", "SJ"]).forEach((layer, k) => {
	svg.append("g").selectAll("rect").data(layer).join("rect")
		.attr("x", d => stackX(d.data) - 35.7).attr("width", 71.4)
		.attr("y", d => stackY(d[1])).attr("height", d => stackY(d[0]) - stackY(d[1]))
		.attr("fill", stackColors[k]);
});
svg.append("g").attr("class", "arial").attr("transform", "translate(0,1067)")
	.call(d3.axisBottom(stackX).tickSize(3).tickSizeOuter(0))
	.call(g => styleAxis(g, 13, "#222", "#444", 1))
	.call(g => g.select(".domain").attr("d", "M558.7,0H806.7"))
	.call(g => g.selectAll("text").attr("text-anchor", "end").attr("dy", 0).attr("y", 0)
		.attr("transform", "translate(2,12) rotate(-45)"));
svg.append("g").attr("class", "arial").attr("transform", "translate(558.7,0)")
	.call(d3.axisLeft(stackY).tickValues([0, 50, 100]).tickSize(3).tickSizeOuter(0))
	.call(g => styleAxis(g, 13.5, "#111", "#333", 1));
label("Proportion", 516.7, 911.7, 13.5, {rotate: -90, arial: true});
[[5, 758.3], [4, 774.7], [3, 793.7], [2, 810.7], [1, 829.3], [0, 845]].forEach(d => {
	svg.append("rect").attr("x", 821).attr("y", d[1] - 2.6).attr("width", 18).attr("height", 5.2).attr("fill", stackColors[d[0]]);
	label(clusterNames[d[0]], 849.3, d[1], 10.5, {anchor: "start", arial: true, fill: "#333"});
});

/* ---------- panel E ---------- */
const dotX = d3.scaleLinear().domain([0.05, 0.15]).range([1041.5, 1360.3]);
const dotY = d3.scalePoint().domain(d3.range(10)).range([755.3, 1047]);
const dotR = d3.scaleLog().domain([7, 24]).range([3.5, 7.6]);
const dotColor = d3.scaleLinear().domain([0, 8e-4]).range(["#ff0000", "#0000ff"]).interpolate(d3.interpolateLab);

const dotLeft = 1031, dotRight = 1482.5, dotTop = 736, dotBottom = 1066;
[0.075, 0.125, 0.175].forEach(v => {
	svg.append("line").attr("x1", dotX(v)).attr("x2", dotX(v)).attr("y1", dotTop).attr("y2", dotBottom).attr("stroke", "#f0f0f0").attr("stroke-width", 0.6);
});
[0.05, 0.10, 0.15].forEach(v => {
	svg.append("line").attr("x1", dotX(v)).attr("x2", dotX(v)).attr("y1", dotTop).attr("y2", dotBottom).attr("stroke", "#e8e8e8").attr("stroke-width", 0.9);
});
d3.range(10).forEach(i => {
	svg.append("line").attr("x1", dotLeft).attr("x2", dotRight).attr("y1", dotY(i)).attr("y2", dotY(i)).attr("stroke", "#e8e8e8").attr("stroke-width", 0.9);
});
svg.append("g").selectAll("circle").data(geneRatio).join("circle")
	.attr("cx", d => dotX(d)).attr("cy", (d, i) => dotY(i))
	.attr("r", (d, i) => dotR(geneCount[i])).attr("fill", (d, i) => dotColor(pAdjust[i]));
svg.append("rect").attr("x", dotLeft).attr("y", dotTop).attr("width", dotRight - dotLeft).attr("height", dotBottom - dotTop)
	.attr("fill", "none").attr("stroke", "#aaa").attr("stroke-width", 1);
svg.append("g").attr("transform", `translate(0,${dotBottom})`)
	.call(d3.axisBottom(dotX).tickValues([0.05, 0.10, 0.15]).tickFormat(d3.format(".2f")).tickSize(2).tickSizeOuter(0))
	.call(g => styleAxis(g, 9.5, "#333", "#888", 0.8))
	.call(g => g.select(".domain").remove());
pathways.forEach((lines, i) => {
	svg.append("line").attr("x1", dotLeft - 2).attr("x2", dotLeft).attr("y1", dotY(i)).attr("y2", dotY(i)).attr("stroke", "#888").attr("stroke-width", 0.8);
	let startY = dotY(i) - (lines.length - 1) * 5.4;
	lines.forEach((ln, j) => {
		label(ln, 1026.4, startY + j * 10.8, 9.8, {anchor: "end", fill: "#333"});
	});
});
label("GeneRatio", 1256.6, 1087, 9.5, {fill: "#333"});

label("Count", 1496.3, 823, 9.5, {anchor: "start", fill: "#333"});
[[10, 839.3], [15, 854.3], [20, 871]].forEach(d => {
	svg.append("circle").attr("cx", 1505).attr("cy", d[1]).attr("r", dotR(d[0])).attr("fill", "#000");
	label(String(d[0]), 1518, d[1], 7.5, {anchor: "start", fill: "#333"});
});
label("p.adjust", 1496.3, 902.7, 9.5, {anchor: "start", fill: "#333"});
const legendScale = d3.scaleLinear().domain([0, 8e-4]).range([984.3, 912.3]);
const defs = svg.append("defs");
const grad = defs.append("linearGradient").attr("id", "padj").attr("x1", 0).attr("x2", 0).attr("y1", 1).attr("y2", 0);
d3.range(0, 1.01, 0.125).forEach(t => {
	grad.append("stop").attr("offset", t).attr("stop-color", dotColor(t * 8e-4));
});
svg.append("rect").attr("x", 1496.3).attr("y", 912.3).attr("width", 14.2).attr("height", 72).attr("fill", "url(#padj)");
[["2e-04", 2e-4], ["4e-04", 4e-4], ["6e-04", 6e-4], ["8e-04", 8e-4]].forEach(d => {
	label(d[0], 1514.7, legendScale(d[1]), 7.2, {anchor: "start", fill: "#333"});
});

panelLetter("A", 1, 25.5);
panelLetter("B", 493, 25.5);
panelLetter("C", 1047, 25.5);
panelLetter("D", 2, 729);
panelLetter("E", 895, 728);
</script>
</body>
</html>
